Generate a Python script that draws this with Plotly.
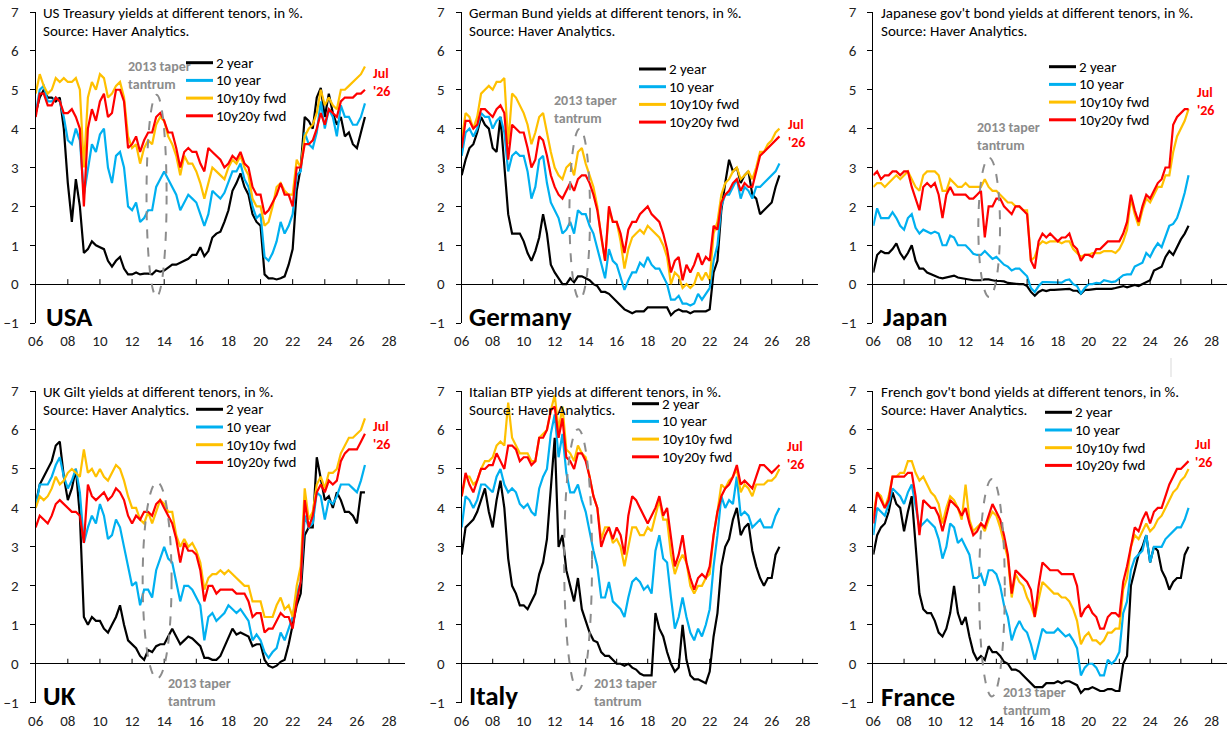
import pandas as pd
import plotly.graph_objects as go

# ---------------- data (quarterly readings, % ) ----------------
dates = pd.date_range("2006-01-01", "2026-07-01", freq="QS")
t = [d.year + (d.month - 1) / 12 for d in dates]

series_names = ["2 year", "10 year", "10y10y fwd", "10y20y fwd"]
series_colors = ["#000000", "#00B0F0", "#FFC000", "#FF0000"]

tick_years = list(range(2006, 2029, 2))
tick_text = ["06", "08", "10", "12", "14", "16", "18", "20", "22", "24", "26", "28"]

usa_2y = [4.4, 4.8, 5.0, 4.8, 4.8, 4.7, 4.8, 4.0, 2.6, 1.6, 2.7, 2.0, 0.8, 0.9, 1.1, 1.0,
          0.95, 0.9, 0.6, 0.45, 0.6, 0.7, 0.4, 0.25, 0.25, 0.3, 0.25, 0.27, 0.27, 0.25, 0.35, 0.32,
          0.35, 0.42, 0.5, 0.5, 0.55, 0.6, 0.65, 0.75, 0.75, 0.95, 0.72, 0.85, 1.2, 1.3, 1.35, 1.6,
          1.9, 2.4, 2.6, 2.85, 2.5, 2.3, 1.8, 1.6, 1.5, 0.25, 0.15, 0.15, 0.12, 0.15, 0.2, 0.5,
          0.9, 2.4, 3.0, 4.3, 4.2, 4.0, 4.8, 5.05, 4.3, 4.9, 4.4, 4.1, 4.3, 3.8, 3.9, 3.6,
          3.5, 3.9, 4.3]
usa_10y = [4.4, 5.0, 5.1, 4.7, 4.7, 4.8, 4.7, 4.3, 3.7, 3.6, 4.0, 3.7, 2.3, 2.9, 3.6, 3.4,
           3.85, 4.0, 3.0, 2.6, 3.3, 3.4, 3.0, 2.0, 1.9, 2.1, 1.6, 1.7, 1.9, 1.9, 2.5, 2.7,
           2.9, 2.7, 2.5, 2.3, 1.9, 2.1, 2.3, 2.2, 2.1, 1.8, 1.5, 1.8, 2.4, 2.3, 2.2, 2.35,
           2.6, 2.9, 2.9, 3.1, 2.7, 2.5, 2.0, 1.7, 1.8, 0.7, 0.6, 0.8, 1.1, 1.6, 1.3, 1.5,
           1.8, 2.8, 2.9, 3.9, 3.6, 3.5, 3.9, 4.7, 4.0, 4.5, 4.3, 3.8, 4.6, 4.3, 4.3, 4.1,
           4.1, 4.3, 4.65]
usa_10y10y = [4.9, 5.4, 5.1, 4.9, 5.0, 5.3, 5.2, 5.3, 5.2, 5.2, 5.3, 5.0, 3.0, 4.8, 5.2, 5.0,
              5.4, 5.3, 4.8, 4.9, 5.1, 5.2, 4.8, 3.8, 3.5, 3.6, 3.1, 3.5, 3.7, 3.6, 4.1, 4.3,
              4.2, 3.8, 3.6, 3.3, 2.8, 3.3, 3.1, 3.1, 2.9, 2.6, 2.2, 2.6, 3.0, 2.9, 2.8, 2.7,
              3.0, 3.2, 3.1, 3.3, 3.0, 2.8, 2.2, 2.0, 2.0, 1.5, 1.6, 2.0, 2.5, 2.6, 2.4, 2.3,
              2.3, 3.2, 3.0, 3.8, 4.0, 4.1, 4.4, 5.0, 4.6, 4.8, 4.6, 4.5, 5.0, 5.0, 5.1, 5.2,
              5.3, 5.4, 5.6]
usa_10y20y = [4.3, 4.9, 4.9, 4.6, 4.6, 4.8, 4.7, 4.4, 4.4, 4.5, 4.3, 4.0, 2.0, 4.0, 4.5, 4.2,
              4.7, 4.9, 4.3, 4.4, 5.0, 5.0, 4.7, 3.5, 3.6, 3.8, 3.4, 3.7, 3.9, 3.9, 4.3, 4.4,
              4.2, 3.9, 3.9, 3.5, 3.0, 3.4, 3.5, 3.4, 3.4, 3.1, 2.9, 3.5, 3.4, 3.3, 3.2, 3.0,
              3.1, 3.3, 3.2, 3.4, 3.1, 3.0, 2.5, 2.3, 2.3, 1.8, 1.9, 2.1, 2.3, 2.6, 2.3, 2.3,
              2.0, 3.0, 3.0, 3.6, 3.6, 3.7, 4.0, 4.4, 4.1, 4.5, 4.4, 4.3, 4.7, 4.8, 4.8, 4.8,
              4.9, 4.9, 5.0]

ger_2y = [2.8, 3.2, 3.5, 3.6, 3.9, 4.3, 4.1, 4.0, 3.5, 3.4, 4.3, 3.0, 1.8, 1.3, 1.3, 1.3,
          1.1, 0.8, 0.6, 0.85, 1.2, 1.8, 1.3, 0.5, 0.3, 0.15, 0.0, 0.0, 0.15, 0.05, 0.2, 0.2,
          0.15, 0.1, 0.0, -0.05, -0.2, -0.2, -0.25, -0.35, -0.45, -0.55, -0.65, -0.7, -0.75, -0.7, -0.7, -0.7,
          -0.6, -0.6, -0.6, -0.6, -0.6, -0.6, -0.8, -0.7, -0.65, -0.7, -0.7, -0.75, -0.7, -0.7, -0.7, -0.7,
          -0.65, 0.3, 0.6, 1.9, 2.6, 3.2, 2.9, 3.0, 2.6, 2.8, 2.9, 2.3, 2.2, 1.8, 1.9, 2.0,
          2.1, 2.5, 2.8]
ger_10y = [3.3, 3.9, 4.0, 3.8, 4.0, 4.4, 4.3, 4.3, 4.0, 4.2, 4.3, 3.9, 2.9, 3.3, 3.4, 3.3,
           3.3, 2.9, 2.2, 2.5, 3.2, 3.3, 2.6, 2.1, 1.9, 1.7, 1.3, 1.4, 1.6, 1.3, 1.9, 1.8,
           1.8, 1.5, 1.3, 0.9, 0.5, 0.15, 0.9, 0.6, 0.5, 0.2, -0.15, 0.1, 0.3, 0.3, 0.55, 0.45,
           0.7, 0.5, 0.4, 0.4, 0.2, 0.0, -0.4, -0.4, -0.3, -0.5, -0.5, -0.55, -0.5, -0.25, -0.4, -0.25,
           -0.1, 0.6, 1.0, 2.0, 2.3, 2.3, 2.5, 2.7, 2.2, 2.5, 2.4, 2.2, 2.5, 2.5, 2.6, 2.7,
           2.8, 2.9, 3.1]
ger_10y10y = [3.7, 4.4, 4.3, 4.0, 4.3, 4.9, 5.0, 5.1, 5.0, 5.2, 5.2, 5.3, 3.6, 4.9, 4.8, 4.6,
              4.4, 4.1, 3.6, 3.9, 4.3, 4.4, 3.9, 3.4, 3.0, 2.8, 2.7, 3.0, 3.1, 2.8, 3.4, 3.5,
              3.1, 2.8, 2.5, 2.0, 1.2, 0.6, 1.9, 1.6, 1.6, 1.1, 0.4, 0.9, 1.2, 1.3, 1.4, 1.3,
              1.5, 1.4, 1.3, 1.2, 1.0, 0.7, 0.0, 0.3, 0.2, -0.1, 0.0, -0.1, 0.0, 0.3, 0.1, 0.3,
              0.1, 1.3, 1.6, 2.3, 2.6, 2.7, 2.9, 3.0, 2.7, 2.8, 2.9, 2.7, 3.0, 3.4, 3.4, 3.6,
              3.7, 3.9, 4.0]
ger_10y20y = [3.5, 4.2, 4.2, 4.0, 4.1, 4.5, 4.5, 4.4, 4.3, 4.5, 4.6, 4.4, 3.2, 4.1, 4.0, 3.9,
              3.9, 3.5, 3.0, 3.2, 3.8, 3.7, 3.3, 2.8, 2.5, 2.3, 2.2, 2.4, 2.6, 2.4, 2.7, 2.8,
              2.8, 2.6, 2.3, 1.9, 1.2, 0.6, 2.0, 1.6, 1.6, 1.3, 0.8, 1.4, 1.6, 1.6, 1.8, 1.9,
              2.0, 1.8, 1.7, 1.6, 1.3, 0.9, 0.3, 0.6, 0.7, 0.1, 0.5, 0.3, 0.5, 0.8, 0.5, 0.7,
              0.6, 1.5, 1.4, 2.1, 2.3, 2.4, 2.6, 2.7, 2.4, 2.6, 2.5, 2.5, 2.9, 3.3, 3.4, 3.5,
              3.6, 3.7, 3.8]

jpn_2y = [0.3, 0.75, 0.85, 0.8, 0.8, 0.9, 1.05, 0.8, 0.65, 0.8, 1.0, 0.6, 0.4, 0.4, 0.3, 0.25,
          0.2, 0.17, 0.15, 0.18, 0.2, 0.22, 0.17, 0.15, 0.13, 0.12, 0.1, 0.1, 0.1, 0.12, 0.12, 0.1,
          0.08, 0.08, 0.07, 0.03, 0.02, 0.0, 0.0, 0.0, -0.05, -0.2, -0.3, -0.2, -0.15, -0.18, -0.15, -0.15,
          -0.14, -0.13, -0.12, -0.12, -0.17, -0.17, -0.25, -0.15, -0.15, -0.13, -0.12, -0.12, -0.12, -0.13, -0.12, -0.1,
          -0.07, -0.05, -0.08, -0.04, -0.02, -0.05, 0.0, 0.05, 0.1, 0.35, 0.4, 0.45, 0.7, 0.85, 0.75, 0.95,
          1.15, 1.3, 1.5]
jpn_10y = [1.5, 1.95, 1.7, 1.7, 1.7, 1.85, 1.7, 1.5, 1.4, 1.7, 1.8, 1.45, 1.3, 1.4, 1.35, 1.3,
           1.35, 1.3, 1.0, 1.0, 1.25, 1.2, 1.0, 1.0, 1.0, 0.9, 0.78, 0.75, 0.75, 0.85, 0.75, 0.65,
           0.7, 0.6, 0.5, 0.45, 0.35, 0.4, 0.4, 0.3, 0.2, -0.1, -0.2, -0.05, 0.05, 0.05, 0.05, 0.05,
           0.05, 0.04, 0.1, 0.12, 0.0, -0.05, -0.24, -0.1, 0.0, 0.0, 0.03, 0.02, 0.1, 0.08, 0.05, 0.07,
           0.15, 0.23, 0.25, 0.25, 0.45, 0.5, 0.55, 0.8, 0.7, 0.9, 1.05, 0.95, 1.25, 1.5, 1.55, 1.7,
           2.0, 2.35, 2.8]
jpn_10y10y = [2.5, 2.6, 2.6, 2.5, 2.6, 2.7, 2.8, 2.7, 2.8, 2.9, 2.7, 2.5, 2.4, 2.8, 2.9, 2.9,
              2.9, 2.8, 2.4, 2.4, 2.7, 2.6, 2.5, 2.5, 2.6, 2.5, 2.5, 2.5, 2.5, 2.7, 2.5, 2.4,
              2.4, 2.3, 2.2, 2.1, 2.1, 2.0, 2.0, 1.9, 1.9, 0.6, 0.7, 1.0, 1.1, 1.05, 1.1, 1.1,
              1.1, 1.05, 1.1, 1.1, 0.9, 0.8, 0.7, 0.75, 0.75, 0.8, 0.8, 0.8, 0.85, 0.85, 0.85, 0.8,
              0.9, 1.1, 1.4, 2.2, 1.8, 1.5, 1.9, 2.2, 2.1, 2.3, 2.5, 2.5, 2.8, 2.8, 3.4, 3.8,
              4.0, 4.2, 4.5]
jpn_10y20y = [2.8, 2.9, 2.7, 2.8, 2.8, 2.9, 2.9, 2.8, 2.9, 2.9, 2.5, 2.2, 1.9, 2.5, 2.6, 2.5,
              2.6, 2.3, 1.7, 2.3, 2.5, 2.3, 2.3, 2.3, 2.3, 2.2, 2.2, 2.3, 2.4, 1.2, 2.0, 2.0,
              2.2, 2.2, 2.0, 1.9, 1.8, 2.0, 2.0, 1.9, 1.8, 0.6, 0.4, 1.1, 1.3, 1.2, 1.3, 1.2,
              1.1, 1.2, 1.2, 1.3, 1.0, 0.9, 0.6, 0.75, 0.75, 0.7, 0.9, 0.9, 1.0, 1.1, 1.1, 1.1,
              1.1, 1.3, 1.6, 2.3, 1.9, 1.6, 2.0, 2.3, 2.2, 2.4, 2.6, 2.7, 3.0, 3.0, 4.1, 4.3,
              4.4, 4.5, 4.5]

uk_2y = [4.1, 4.6, 4.8, 5.0, 5.2, 5.6, 5.7, 4.8, 4.2, 4.5, 5.0, 3.8, 1.2, 1.0, 1.2, 1.1,
         1.1, 0.9, 0.8, 1.0, 1.2, 1.5, 1.0, 0.6, 0.5, 0.4, 0.2, 0.1, 0.35, 0.3, 0.45, 0.5,
         0.5, 0.7, 0.9, 0.7, 0.5, 0.6, 0.7, 0.65, 0.55, 0.45, 0.15, 0.15, 0.1, 0.1, 0.2, 0.45,
         0.7, 0.9, 0.75, 0.8, 0.75, 0.7, 0.45, 0.5, 0.5, 0.1, -0.05, -0.1, -0.05, 0.05, 0.1, 0.5,
         1.0, 1.5, 1.8, 3.3, 3.5, 3.5, 5.3, 4.7, 4.2, 4.3, 4.0, 4.4, 4.2, 3.9, 3.9, 3.8,
         3.6, 4.4, 4.4]
uk_10y = [4.0, 4.6, 4.6, 4.6, 4.8, 5.1, 5.3, 4.8, 4.5, 4.7, 5.0, 4.4, 3.1, 3.5, 3.8, 3.6,
          4.1, 3.8, 3.2, 3.3, 3.7, 3.5, 3.0, 2.5, 2.0, 2.1, 1.5, 1.9, 1.9, 1.7, 2.4, 2.7,
          3.0, 2.7, 2.6, 2.1, 1.6, 2.0, 2.0, 1.9, 1.7, 1.5, 0.6, 1.2, 1.3, 1.1, 1.2, 1.3,
          1.5, 1.4, 1.3, 1.4, 1.25, 1.1, 0.6, 0.75, 0.6, 0.3, 0.15, 0.3, 0.4, 0.8, 0.6, 0.9,
          1.2, 1.8, 2.1, 3.8, 3.5, 3.6, 4.4, 4.3, 3.7, 4.2, 4.1, 4.3, 4.6, 4.6, 4.6, 4.5,
          4.4, 4.7, 5.1]
uk_10y10y = [4.0, 4.3, 4.2, 4.3, 4.5, 4.8, 4.6, 4.7, 4.9, 5.0, 4.9, 4.8, 5.5, 4.9, 5.0, 4.8,
             5.0, 4.8, 4.7, 4.9, 5.1, 5.0, 4.7, 4.3, 4.0, 4.0, 3.7, 3.6, 3.9, 3.6, 3.9, 4.2,
             4.1, 3.9, 3.9, 3.3, 3.0, 3.2, 3.0, 3.1, 2.9, 2.6, 1.9, 2.2, 2.3, 2.3, 2.4, 2.3,
             2.4, 2.3, 2.2, 2.1, 2.0, 2.0, 1.6, 1.6, 1.6, 1.2, 1.2, 1.2, 1.5, 1.7, 1.4, 1.5,
             1.2, 2.0, 2.5, 4.5, 3.7, 3.9, 4.6, 4.8, 4.5, 4.9, 4.9, 5.0, 5.4, 5.6, 5.8, 5.8,
             5.9, 6.0, 6.3]
uk_10y20y = [3.5, 3.8, 3.7, 3.6, 3.8, 4.1, 4.2, 4.1, 4.0, 3.9, 3.9, 3.8, 3.1, 4.6, 4.3, 4.2,
             4.3, 4.4, 4.2, 4.3, 4.5, 4.4, 4.2, 3.8, 3.6, 3.8, 3.7, 3.9, 3.9, 3.8, 4.1, 4.2,
             4.0, 3.8, 3.6, 3.2, 2.6, 3.1, 2.9, 2.9, 2.8, 2.4, 1.6, 2.0, 2.0, 1.8, 1.9, 1.9,
             1.9, 1.9, 1.8, 1.8, 1.8, 1.6, 1.2, 1.3, 1.3, 0.8, 0.9, 0.9, 1.1, 1.3, 1.2, 1.2,
             0.9, 1.6, 2.1, 4.2, 3.5, 3.8, 4.4, 4.6, 4.4, 4.7, 4.6, 4.7, 5.2, 5.4, 5.5, 5.5,
             5.5, 5.7, 5.9]

ita_2y = [2.8, 3.5, 3.6, 3.7, 3.9, 4.2, 4.5, 3.9, 3.5, 4.2, 4.7, 4.0, 2.7, 2.0, 1.8, 1.5,
          1.5, 1.4, 1.6, 1.8, 2.3, 2.6, 3.2, 4.5, 5.8, 3.0, 3.3, 2.4, 2.0, 1.6, 2.2, 1.4,
          1.1, 0.8, 0.6, 0.55, 0.3, 0.2, 0.2, 0.1, 0.0, 0.0, -0.05, 0.0, -0.1, -0.15, -0.25, -0.3,
          -0.3, -0.3, 1.3, 0.9, 0.7, 0.3, 0.0, -0.2, -0.1, 1.0, 0.1, -0.3, -0.4, -0.4, -0.45, -0.5,
          -0.2, 0.7, 1.3, 2.5, 3.0, 3.2, 3.7, 4.0, 3.3, 3.5, 3.6, 2.9, 2.5, 2.2, 2.0, 2.2,
          2.2, 2.8, 3.0]
ita_10y = [3.5, 4.3, 4.2, 4.0, 4.2, 4.6, 4.6, 4.5, 4.4, 4.8, 5.0, 4.6, 4.4, 4.5, 4.4, 4.1,
           4.0, 4.1, 3.9, 3.8, 4.5, 4.8, 5.0, 5.9, 6.4, 5.3, 5.9, 4.9, 4.4, 4.4, 4.6, 4.2,
           3.9, 3.4, 2.9, 2.5, 1.7, 1.7, 2.1, 1.6, 1.5, 1.4, 1.2, 1.7, 2.1, 2.2, 2.1, 1.9,
           2.0, 1.8, 2.9, 3.3, 2.7, 2.6, 1.7, 0.9, 1.2, 1.7, 1.2, 0.8, 0.6, 0.9, 0.7, 1.0,
           1.4, 2.5, 3.3, 4.3, 4.0, 4.2, 4.1, 4.8, 3.8, 3.9, 3.8, 3.5, 3.6, 3.7, 3.5, 3.5,
           3.5, 3.8, 4.0]
ita_10y10y = [4.3, 4.8, 4.8, 4.6, 4.7, 5.0, 5.2, 5.2, 5.3, 5.6, 5.7, 5.6, 6.7, 5.8, 5.6, 5.4,
              5.4, 5.4, 5.2, 5.2, 5.8, 5.9, 6.0, 6.5, 6.9, 6.0, 6.6, 5.5, 5.4, 5.2, 5.6, 5.4,
              5.3, 4.8, 4.3, 4.0, 3.2, 3.5, 3.5, 3.1, 3.2, 3.0, 2.5, 3.0, 3.5, 3.5, 3.3, 3.3,
              3.5, 3.4, 3.8, 4.2, 3.7, 3.7, 2.8, 2.3, 2.6, 2.8, 2.6, 2.0, 1.8, 2.0, 2.0, 2.2,
              2.3, 3.3, 3.9, 4.6, 4.5, 4.7, 4.8, 5.0, 4.4, 4.6, 4.5, 4.3, 4.6, 4.6, 4.6, 4.7,
              4.7, 4.8, 5.0]
ita_10y20y = [4.3, 4.9, 4.6, 4.4, 4.7, 5.0, 5.0, 5.1, 5.1, 5.4, 5.2, 5.0, 5.6, 5.6, 5.5, 5.2,
              5.3, 5.3, 5.1, 5.2, 5.8, 5.8, 6.0, 6.5, 6.6, 5.8, 6.3, 5.3, 5.2, 5.0, 5.4, 5.4,
              5.2, 4.8, 4.3, 4.0, 3.0, 3.3, 3.5, 3.2, 3.5, 3.3, 2.8, 3.8, 4.3, 4.2, 4.0, 3.8,
              3.6, 3.8, 4.0, 4.3, 3.8, 4.0, 3.2, 2.5, 2.8, 3.3, 2.6, 2.2, 1.9, 2.2, 2.3, 2.2,
              2.5, 3.3, 3.9, 4.3, 4.5, 4.6, 4.8, 5.1, 4.6, 4.7, 4.6, 4.5, 4.8, 5.1, 5.1, 5.0,
              4.9, 5.0, 5.1]

fra_2y = [2.8, 3.3, 3.5, 3.6, 3.9, 4.4, 4.1, 4.0, 3.4, 3.9, 4.3, 3.1, 1.8, 1.4, 1.3, 1.3,
          1.1, 0.8, 0.7, 0.9, 1.3, 2.0, 1.3, 1.0, 1.2, 0.7, 0.3, 0.1, 0.2, 0.1, 0.45, 0.3,
          0.3, 0.2, 0.05, 0.0, -0.15, -0.15, -0.2, -0.3, -0.4, -0.5, -0.6, -0.6, -0.6, -0.5, -0.5, -0.5,
          -0.45, -0.5, -0.45, -0.45, -0.5, -0.55, -0.75, -0.65, -0.65, -0.6, -0.65, -0.7, -0.7, -0.65, -0.65, -0.7,
          -0.7, 0.0, 0.2, 2.0, 2.4, 2.8, 3.0, 3.3, 2.6, 3.0, 2.9, 2.4, 2.2, 1.9, 2.1, 2.2,
          2.2, 2.8, 3.0]
fra_10y = [3.3, 4.0, 3.9, 3.8, 4.1, 4.5, 4.4, 4.3, 4.1, 4.4, 4.6, 4.0, 3.5, 3.6, 3.7, 3.6,
           3.5, 3.2, 2.7, 3.0, 3.6, 3.5, 3.1, 3.2, 3.0, 2.8, 2.2, 2.2, 2.3, 2.0, 2.4, 2.4,
           2.3, 2.0, 1.5, 1.2, 0.6, 0.9, 1.1, 0.9, 0.8, 0.5, 0.1, 0.5, 0.9, 0.8, 0.8, 0.8,
           0.9, 0.8, 0.7, 0.75, 0.6, 0.4, -0.3, -0.1, 0.0, 0.0, -0.1, -0.3, -0.3, 0.1, 0.0, 0.1,
           0.3, 1.3, 1.6, 2.4, 2.7, 2.8, 2.9, 3.3, 2.6, 3.0, 3.0, 3.0, 3.2, 3.3, 3.4, 3.5,
           3.5, 3.7, 4.0]
fra_10y10y = [3.8, 4.4, 4.3, 4.0, 4.3, 4.8, 4.8, 4.9, 4.9, 5.2, 5.2, 4.9, 4.7, 4.8, 4.6, 4.4,
              4.3, 4.1, 3.6, 4.0, 4.3, 4.2, 4.0, 3.7, 4.6, 3.7, 3.4, 3.5, 3.6, 3.4, 3.7, 3.9,
              3.8, 3.5, 3.1, 2.7, 1.7, 2.3, 2.1, 2.0, 1.7, 1.5, 1.2, 1.7, 2.1, 2.0, 1.9, 1.8,
              1.8, 1.7, 1.7, 1.6, 1.4, 1.1, 0.5, 0.7, 0.8, 0.6, 0.6, 0.5, 0.6, 0.8, 0.8, 0.9,
              0.9, 1.9, 2.2, 3.0, 3.3, 3.2, 3.4, 3.6, 3.4, 3.5, 3.7, 3.8, 4.0, 4.2, 4.4, 4.5,
              4.7, 4.8, 5.0]
fra_10y20y = [3.6, 4.4, 4.2, 4.0, 4.2, 4.8, 4.8, 4.8, 4.8, 4.9, 4.9, 4.3, 3.3, 4.2, 4.1, 4.0,
              4.0, 3.8, 3.4, 3.8, 4.2, 4.1, 4.0, 3.8, 4.0, 3.6, 3.3, 3.4, 3.6, 3.5, 3.8, 4.1,
              3.9, 3.7, 3.3, 2.8, 1.8, 2.4, 2.3, 2.2, 2.1, 1.9, 1.2, 2.0, 2.6, 2.5, 2.4, 2.4,
              2.4, 2.3, 2.3, 2.3, 2.3, 2.0, 1.2, 1.4, 1.5, 1.3, 1.2, 0.9, 0.9, 1.2, 1.3, 1.3,
              1.2, 2.1, 2.5, 3.0, 3.5, 3.4, 3.7, 3.9, 3.6, 3.9, 4.0, 4.0, 4.3, 4.6, 4.8, 5.0,
              5.0, 5.1, 5.2]

country_labels = ["USA", "Germany", "Japan", "UK", "Italy", "France"]
title_line1 = [
    "US Treasury yields at different tenors, in %.",
    "German Bund yields at different tenors, in %.",
    "Japanese gov't bond yields at different tenors, in %.",
    "UK Gilt yields at different tenors, in %.",
    "Italian BTP yields at different tenors, in %.",
    "French gov't bond yields at different tenors, in %.",
]
title_line2 = "Source: Haver Analytics."
panel_series = [
    [usa_2y, usa_10y, usa_10y10y, usa_10y20y],
    [ger_2y, ger_10y, ger_10y10y, ger_10y20y],
    [jpn_2y, jpn_10y, jpn_10y10y, jpn_10y20y],
    [uk_2y, uk_10y, uk_10y10y, uk_10y20y],
    [ita_2y, ita_10y, ita_10y10y, ita_10y20y],
    [fra_2y, fra_10y, fra_10y10y, fra_10y20y],
]
for grp in panel_series:
    for s in grp:
        assert len(s) == len(t), len(s)

# ---------------- layout geometry (pixels) ----------------
W, H = 1232, 730
FONT = "Calibri, Carlito, Lato, sans-serif"
TXT = 15


def fx(px):
    return px / W


def fy(py):
    return 1 - py / H


col_px = [(35.7, 405.1), (461.7, 818.2), (873.3, 1227.0)]
row_px = [(12.0, 323.0), (391.0, 702.7)]

title_pos = [(41, 12.7), (467, 12.7), (879, 12.7), (41, 392.3), (467, 392.3), (879, 392.3)]
country_pos = [(44, 316), (467, 316), (881, 316), (41, 695), (467, 695), (879, 696)]
legend_pos = [(216, 62.7), (669, 69), (1079, 66.7), (226, 409.3), (662, 403.7), (1075, 412.3)]
LEG_STEP = 17.7
ellipse_box = [(2012.9, 2014.15, -0.32, 4.87), (2012.95, 2014.28, -0.39, 4.0),
               (2012.83, 2014.24, -0.33, 3.25), (2012.66, 2014.46, -0.38, 4.66),
               (2012.61, 2014.41, -0.68, 6.02), (2012.88, 2014.55, -0.84, 4.74)]
taper_pos = [(2011.6, 5.36), (2011.85, 4.48), (2012.62, 3.79),
             (2014.1, -0.73), (2014.43, -0.73), (2014.33, -0.98)]
jul_pos = [(2026.9, 5.19), (2026.93, 3.88), (2026.91, 4.7),
           (2026.9, 5.86), (2026.83, 5.35), (2026.77, 5.4)]

fig = go.Figure()
layout = dict(width=W, height=H, margin=dict(l=0, r=0, t=0, b=0, autoexpand=False),
              paper_bgcolor="white", plot_bgcolor="white", showlegend=False,
              font=dict(family=FONT, size=TXT, color="#000000"),
              annotations=[], shapes=[])

for i in range(6):
    r, c = divmod(i, 3)
    n = "" if i == 0 else str(i + 1)
    xa, ya = "x" + n, "y" + n
    x0, x1 = col_px[c]
    y0, y1 = row_px[r]
    layout["xaxis" + n] = dict(domain=[fx(x0), fx(x1)], range=[2006, 2029], anchor=ya,
                               automargin=False,
                               tickmode="array", tickvals=tick_years, ticktext=tick_text,
                               showline=False, ticks="", showgrid=False, zeroline=False,
                               tickfont=dict(size=TXT, color="#222"), ticklabelstandoff=7)
    layout["yaxis" + n] = dict(domain=[fy(y1), fy(y0)], range=[-1, 7], anchor=xa,
                               automargin=False,
                               tickmode="array", tickvals=list(range(-1, 8)),
                               showline=True, linecolor="black", linewidth=1,
                               ticks="outside", ticklen=5, tickcolor="black",
                               showgrid=False, zeroline=True, zerolinecolor="black",
                               zerolinewidth=1, tickfont=dict(size=TXT, color="#222"),
                               ticklabelstandoff=8)
    for k in range(4):
        fig.add_trace(go.Scatter(x=t, y=panel_series[i][k], name=series_names[k],
                                 mode="lines", line=dict(color=series_colors[k], width=2.2),
                                 xaxis=xa, yaxis=ya, hoverinfo="skip"))
    # legend (sample line + label per series)
    lx, ly = legend_pos[i]
    for k in range(4):
        yy = ly + LEG_STEP * k
        layout["shapes"].append(dict(type="line", xref="paper", yref="paper",
                                     x0=fx(lx - 30), x1=fx(lx - 3), y0=fy(yy), y1=fy(yy),
                                     line=dict(color=series_colors[k], width=3)))
        layout["annotations"].append(dict(text=series_names[k], xref="paper", yref="paper",
                                          x=fx(lx - 2), y=fy(yy), xanchor="left",
                                          yanchor="middle", showarrow=False,
                                          font=dict(size=TXT, family=FONT, color="#000")))
    # tick marks on the zero line
    for tv in tick_years[1:]:
        layout["shapes"].append(dict(type="line", xref=xa, yref=ya, x0=tv, x1=tv,
                                     ysizemode="pixel", yanchor=0, y0=0, y1=5,
                                     line=dict(color="black", width=1)))
    ex0, ex1, ey0, ey1 = ellipse_box[i]
    layout["shapes"].append(dict(type="circle", xref=xa, yref=ya, x0=ex0, x1=ex1,
                                 y0=ey0, y1=ey1,
                                 line=dict(color="#8c8c8c", width=2, dash="dash")))
    tx, tyv = title_pos[i]
    for j, line in enumerate([title_line1[i], title_line2]):
        layout["annotations"].append(dict(text=line, xref="paper", yref="paper",
                                          x=fx(tx), y=fy(tyv + 18 * j), xanchor="left",
                                          yanchor="middle", align="left", showarrow=False,
                                          font=dict(size=TXT, family=FONT, color="#000")))
    cx, cy = country_pos[i]
    layout["annotations"].append(dict(text="<b>%s</b>" % country_labels[i], xref="paper",
                                      yref="paper", x=fx(cx), y=fy(cy), xanchor="left",
                                      yanchor="middle", showarrow=False,
                                      font=dict(size=27, family=FONT, color="#000")))
    px_, py_ = taper_pos[i]
    layout["annotations"].append(dict(text="<b>2013 taper<br>tantrum</b>", xref=xa, yref=ya,
                                      x=px_, y=py_, xanchor="left", yanchor="middle",
                                      align="left", showarrow=False,
                                      font=dict(size=14, family=FONT, color="#8c8c8c")))
    jx, jy = jul_pos[i]
    layout["annotations"].append(dict(text="<b>Jul<br>'26</b>", xref=xa, yref=ya,
                                      x=jx, y=jy, xanchor="left", yanchor="middle",
                                      align="left", showarrow=False,
                                      font=dict(size=14, family=FONT, color="#FF0000")))

layout["shapes"].append(dict(type="line", xref="paper", yref="paper", x0=fx(1171), x1=fx(1171),
                             y0=fy(358), y1=fy(377), line=dict(color="#d9d9d9", width=1)))

fig.update_layout(**layout)
fig.write_html("out.html")
